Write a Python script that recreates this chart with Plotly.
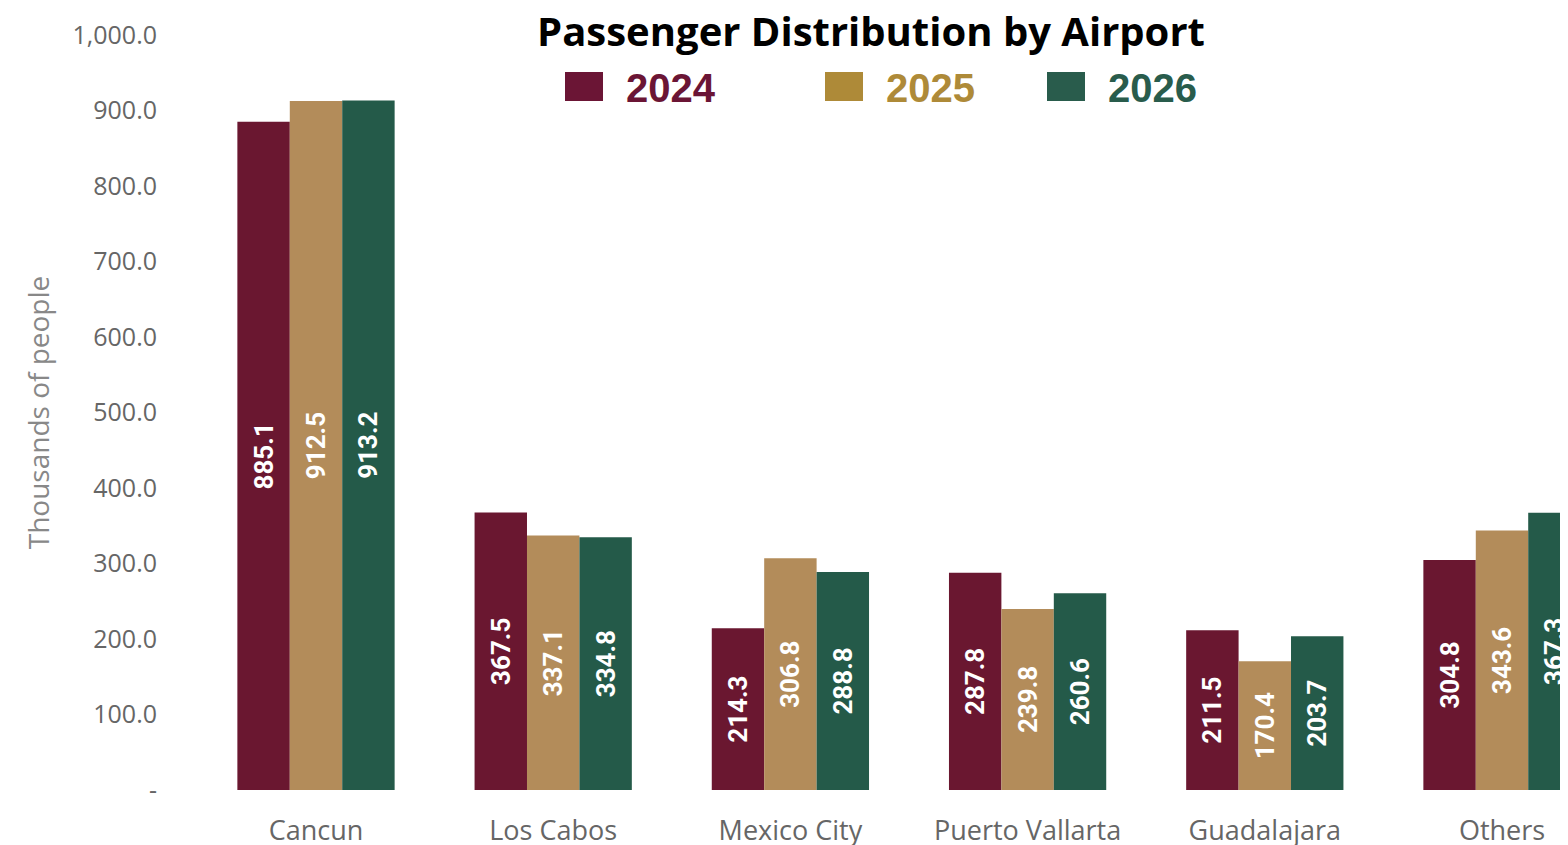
import plotly.graph_objects as go

airports = ["Cancun", "Los Cabos", "Mexico City", "Puerto Vallarta", "Guadalajara", "Others"]
years = ["2024", "2025", "2026"]
v2024 = [885.1, 367.5, 214.3, 287.8, 211.5, 304.8]
v2025 = [912.5, 337.1, 306.8, 239.8, 170.4, 343.6]
v2026 = [913.2, 334.8, 288.8, 260.6, 203.7, 367.3]
series = [v2024, v2025, v2026]

bar_colors = ["#6A1730", "#B38C5A", "#245A49"]
legend_colors = ["#6B1535", "#AE8A38", "#295C4C"]

ytick_vals = [0, 100, 200, 300, 400, 500, 600, 700, 800, 900, 1000]
ytick_text = ["-"] + [f"{v:,.1f}" for v in ytick_vals[1:]]

# page body has an 8px margin; work in window pixels and convert
OFF = 8
W, H = 1568, 845
ML, MR, MT, MB = 180 - OFF, 0, 35 - OFF, H - (790 - OFF)
PW, PH = W - ML - MR, H - MT - MB
CAT_PX = 237.2  # pixels between category centres
x_min = -(316 - OFF - ML) / CAT_PX
x_max = x_min + PW / CAT_PX


def px(x):
    return (x - OFF - ML) / PW


def py(y):
    return 1 - (y - OFF - MT) / PH


fig = go.Figure()
for name, vals, col in zip(years, series, bar_colors):
    fig.add_trace(go.Bar(
        x=list(range(len(airports))), y=vals, name=name,
        marker=dict(color=col, line=dict(width=0)),
        text=[f"{v:.1f}" for v in vals],
        textposition="inside", insidetextanchor="middle", textangle=-90,
        constraintext="none",
        textfont=dict(family="Roboto", size=26, color="white", weight="bold"),
        showlegend=False,
    ))

# manual legend (large squares + coloured labels)
leg_sq_x = [565, 825, 1047]
for name, x0, col in zip(years, leg_sq_x, legend_colors):
    fig.add_shape(type="rect", xref="paper", yref="paper",
                  x0=px(x0), x1=px(x0 + 38), y0=py(101), y1=py(72),
                  fillcolor=col, line=dict(width=0))
    fig.add_annotation(xref="paper", yref="paper", x=px(x0 + 59), y=py(88),
                       xanchor="left", yanchor="middle", text=f"<b>{name}</b>",
                       showarrow=False,
                       font=dict(family="Liberation Sans", size=40, color=col))

fig.update_layout(
    width=W, height=H,
    margin=dict(l=ML, r=MR, t=MT, b=MB),
    paper_bgcolor="white", plot_bgcolor="white",
    barmode="group", bargap=0.337, bargroupgap=0,
    title=dict(text="<b>Passenger Distribution by Airport</b>",
               x=(871 - OFF) / W, xref="container", xanchor="center",
               y=1 - (32 - OFF) / H, yref="container", yanchor="middle",
               font=dict(family="Open Sans", size=40, color="black")),
    xaxis=dict(tickmode="array", tickvals=list(range(len(airports))), ticktext=airports,
               range=[x_min, x_max], showgrid=False, zeroline=False, showline=False,
               ticks="", ticklabelstandoff=22,
               tickfont=dict(family="Open Sans", size=27, color="#666666")),
    yaxis=dict(range=[0, 1000], tickmode="array", tickvals=ytick_vals, ticktext=ytick_text,
               showgrid=False, zeroline=False, showline=False, ticks="",
               ticklabelstandoff=22,
               tickfont=dict(family="Open Sans", size=25, color="#666666"),
               title=dict(text="Thousands of people", standoff=14,
                          font=dict(family="Open Sans", size=28, color="#888888"))),
)

fig.write_html("out.html")
